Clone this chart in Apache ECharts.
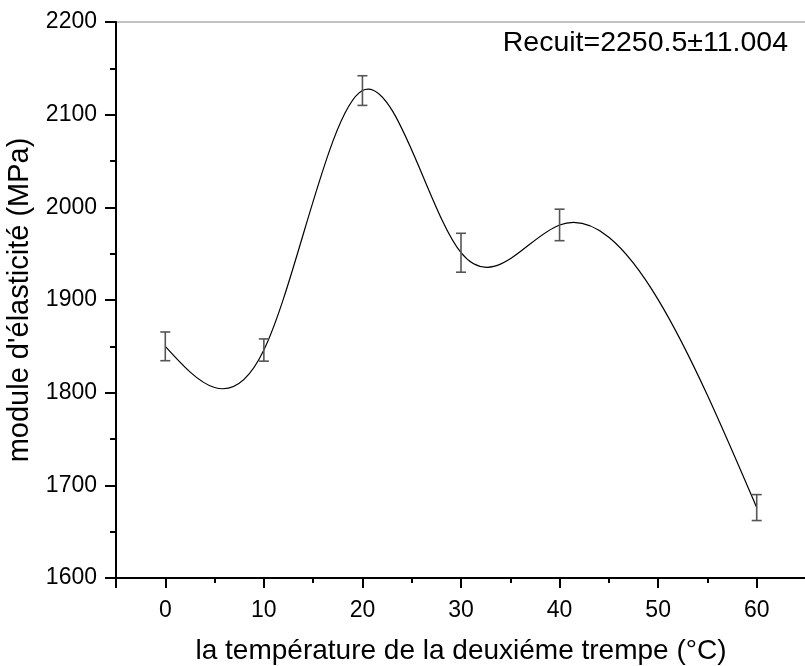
<!DOCTYPE html>
<html>
<head>
<meta charset="utf-8">
<style>
  html, body { margin: 0; padding: 0; background: #ffffff; }
  #chart { width: 805px; height: 666px; }
</style>
<script src="https://cdn.jsdelivr.net/npm/echarts@6/dist/echarts.min.js"></script>
</head>
<body>
<div id="chart"></div>
<script>
// Second quench temperature (°C)
const temperatures = [0, 10, 20, 30, 40, 60];
// Elastic modulus (MPa), mean of the measurements
const modulus = [1850, 1846, 2126, 1951, 1981, 1676];
// Standard deviation (MPa)
const deviation = [15.5, 12, 16, 21, 17, 14];

const annealedLabel = 'Recuit=2250.5±11.004';
const xTitle = 'la température de la deuxiéme trempe (°C)';
const yTitle = "module d'élasticité (MPa)";

const FONT = '"Liberation Sans", Arial, Helvetica, sans-serif';

const linePoints = temperatures.map((t, i) => [t, modulus[i]]);
const barPoints = temperatures.map((t, i) => [t, modulus[i] - deviation[i], modulus[i] + deviation[i]]);

// Natural cubic spline through the measured points: returns the slope at each knot.
function splineSlopes(xs, ys) {
  const n = xs.length - 1;
  const h = [], s = [];
  for (let i = 0; i < n; i++) {
    h.push(xs[i + 1] - xs[i]);
    s.push((ys[i + 1] - ys[i]) / h[i]);
  }
  // Tridiagonal system for second derivatives M (M0 = Mn = 0)
  const M = new Array(n + 1).fill(0);
  const a = [], b = [], c = [], d = [];
  for (let i = 1; i < n; i++) {
    a.push(h[i - 1]);
    b.push(2 * (h[i - 1] + h[i]));
    c.push(h[i]);
    d.push(6 * (s[i] - s[i - 1]));
  }
  const m = b.length;
  for (let i = 1; i < m; i++) {
    const w = a[i] / b[i - 1];
    b[i] -= w * c[i - 1];
    d[i] -= w * d[i - 1];
  }
  const sol = new Array(m);
  sol[m - 1] = d[m - 1] / b[m - 1];
  for (let i = m - 2; i >= 0; i--) sol[i] = (d[i] - c[i] * sol[i + 1]) / b[i];
  for (let i = 1; i < n; i++) M[i] = sol[i - 1];
  const slopes = [];
  for (let i = 0; i < n; i++) slopes.push(s[i] - h[i] * (2 * M[i] + M[i + 1]) / 6);
  slopes.push(s[n - 1] + h[n - 1] * (M[n - 1] + 2 * M[n]) / 6);
  return slopes;
}

const slopes = splineSlopes(temperatures, modulus);

const chart = echarts.init(document.getElementById('chart'), null, { renderer: 'canvas' });

chart.setOption({
  animation: false,
  backgroundColor: '#ffffff',
  grid: {
    left: 116, top: 22, width: 690, height: 556,
    outerBoundsMode: 'none',
    containLabel: false,
    show: true, borderColor: '#858585', borderWidth: 1, backgroundColor: 'transparent'
  },
  xAxis: {
    type: 'value',
    min: -5, max: 65,
    splitNumber: 7,
    name: xTitle,
    nameLocation: 'middle',
    nameGap: 59,
    nameTextStyle: { fontFamily: FONT, fontSize: 28, color: '#000' },
    axisLine: { onZero: false, lineStyle: { color: '#000', width: 2 } },
    axisTick: { show: true, inside: false, length: 10, lineStyle: { color: '#000', width: 2 } },
    minorTick: { show: true, splitNumber: 2, length: 5, lineStyle: { color: '#000', width: 2 } },
    splitLine: { show: false },
    axisLabel: {
      fontFamily: FONT, fontSize: 23, color: '#000', margin: 21,
      showMinLabel: false, showMaxLabel: false,
      formatter: v => (v % 10 === 0 ? String(v) : '')
    }
  },
  yAxis: {
    type: 'value',
    min: 1600, max: 2200, interval: 100,
    name: yTitle,
    nameLocation: 'middle',
    nameGap: 79,
    nameTextStyle: { fontFamily: FONT, fontSize: 29, color: '#000' },
    axisLine: { onZero: false, lineStyle: { color: '#000', width: 2 } },
    axisTick: { show: true, inside: false, length: 11, lineStyle: { color: '#000', width: 2 } },
    minorTick: { show: true, splitNumber: 2, length: 6, lineStyle: { color: '#000', width: 2 } },
    splitLine: { show: false },
    axisLabel: { fontFamily: FONT, fontSize: 23, color: '#000', margin: 19, formatter: v => String(v) }
  },
  graphic: [{
    type: 'text',
    right: 17,
    top: 29,
    style: { text: annealedLabel, font: '28.5px ' + FONT, fill: '#000' }
  }],
  series: [
    {
      // Spline curve through the means, drawn as cubic Bézier segments in axis coordinates
      type: 'custom',
      data: linePoints,
      encode: { x: 0, y: 1 },
      z: 3,
      renderItem: (params, api) => {
        if (params.dataIndex !== 0) return null;
        const children = [];
        for (let i = 0; i < temperatures.length - 1; i++) {
          const x0 = temperatures[i], x1 = temperatures[i + 1];
          const y0 = modulus[i], y1 = modulus[i + 1];
          const h = x1 - x0;
          const p0 = api.coord([x0, y0]);
          const p1 = api.coord([x1, y1]);
          const c0 = api.coord([x0 + h / 3, y0 + slopes[i] * h / 3]);
          const c1 = api.coord([x1 - h / 3, y1 - slopes[i + 1] * h / 3]);
          children.push({
            type: 'bezierCurve',
            shape: { x1: p0[0], y1: p0[1], x2: p1[0], y2: p1[1], cpx1: c0[0], cpy1: c0[1], cpx2: c1[0], cpy2: c1[1] },
            style: { stroke: '#000', lineWidth: 1.2, fill: null }
          });
        }
        return { type: 'group', children };
      }
    },
    {
      type: 'custom',
      data: barPoints,
      encode: { x: 0, y: [1, 2] },
      z: 4,
      renderItem: (params, api) => {
        const x = api.value(0);
        const lo = api.coord([x, api.value(1)]);
        const hi = api.coord([x, api.value(2)]);
        const half = 5;
        const style = { stroke: '#555555', lineWidth: 1.6, fill: null };
        return {
          type: 'group',
          children: [
            { type: 'line', shape: { x1: lo[0], y1: lo[1], x2: hi[0], y2: hi[1] }, style },
            { type: 'line', shape: { x1: lo[0] - half, y1: lo[1], x2: lo[0] + half, y2: lo[1] }, style },
            { type: 'line', shape: { x1: hi[0] - half, y1: hi[1], x2: hi[0] + half, y2: hi[1] }, style }
          ]
        };
      }
    }
  ]
});
</script>
</body>
</html>
